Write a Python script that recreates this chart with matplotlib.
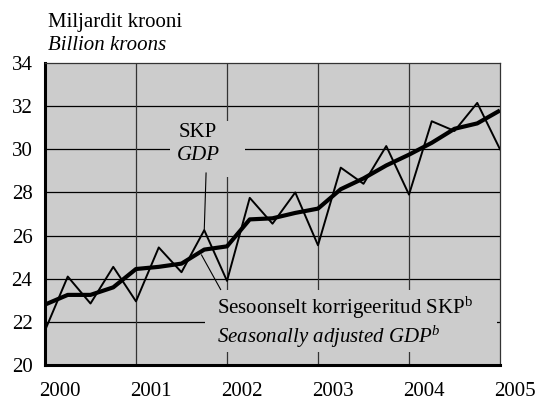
import matplotlib
matplotlib.use("Agg")
import matplotlib.pyplot as plt
import matplotlib.transforms as mtransforms
import numpy as np

plt.rcParams['font.family'] = ['Liberation Serif', 'DejaVu Serif']
plt.rcParams['mathtext.fontset'] = 'custom'
plt.rcParams['mathtext.rm'] = 'Liberation Serif'
plt.rcParams['mathtext.it'] = 'Liberation Serif:italic'

# quarterly data, 2000 Q1 ... 2005 Q1
gdp = [21.6, 24.1, 22.85, 24.55, 22.95, 25.45, 24.3, 26.25, 23.9, 27.75,
       26.55, 28.0, 25.55, 29.15, 28.4, 30.15, 27.9, 31.3, 30.85, 32.15, 30.0]
gdp_sa = [22.8, 23.25, 23.25, 23.6, 24.45, 24.55, 24.7, 25.35, 25.5, 26.75,
          26.8, 27.05, 27.25, 28.15, 28.65, 29.25, 29.75, 30.3, 30.95, 31.2, 31.8]
years = [2000, 2001, 2002, 2003, 2004, 2005]
yticks = [20, 22, 24, 26, 28, 30, 32, 34]

x = 2000 + np.arange(len(gdp)) / 4
fs = 15

fig = plt.figure(figsize=(5.36, 4.01), dpi=100)
ax = fig.add_axes([45 / 536, 36 / 401, 455 / 536, 302 / 401])
ax.set_facecolor('#cccccc')

# grid
for yv in yticks[1:-1]:
    ax.axhline(yv, color='black', lw=0.9, zorder=1)
for xv in years[1:-1]:
    ax.axvline(xv, color='#333333', lw=0.9, zorder=1)

ax.plot(x, gdp, color='black', lw=1.4, zorder=3)
ax.plot(x, gdp_sa, color='black', lw=3.0, zorder=4, solid_capstyle='butt')

ax.set_yticks(yticks)
ax.set_yticklabels([str(v) for v in yticks], fontsize=fs)
ax.set_xticks(years)
ax.set_xticklabels([str(v) for v in years], fontsize=fs)
ax.set_xlim(2000, 2005)
ax.set_ylim(20, 34)
ax.tick_params(axis='y', length=0, pad=9)
ax.tick_params(axis='x', length=0, pad=12)

# year labels sit a little to the right of the year boundary
shift = mtransforms.ScaledTranslation(0.15, 0, fig.dpi_scale_trans)
for lab in ax.get_xticklabels():
    lab.set_transform(lab.get_transform() + shift)

for s in ['left', 'bottom']:
    ax.spines[s].set_linewidth(2.2)
for s in ['top', 'right']:
    ax.spines[s].set_linewidth(0.9)
    ax.spines[s].set_color('#333333')

# label boxes covering the grid
ax.fill_between([2001.37, 2002.2], 28.7, 31.3, color='#cccccc', zorder=2, lw=0)
ax.fill_between([2001.76, 2004.97], 20.6, 23.5, color='#cccccc', zorder=2, lw=0)

ax.text(2001.68, 30.8, 'SKP', ha='center', va='center', fontsize=fs, zorder=5)
ax.text(2001.68, 29.7, 'GDP', ha='center', va='center', fontsize=fs,
        style='italic', zorder=5)
ax.plot([2001.75, 2001.77], [26.25, 28.9], color='black', lw=0.8, zorder=5)

ax.text(2001.89, 22.65, 'Sesoonselt korrigeeritud SKP$^{\\mathrm{b}}$',
        ha='left', va='center', fontsize=fs, zorder=5)
ax.text(2001.89, 21.3, 'Seasonally adjusted GDP$^{b}$',
        ha='left', va='center', fontsize=fs, style='italic', zorder=5)
ax.plot([2001.72, 2001.93], [25.1, 23.5], color='black', lw=0.8, zorder=5)

fig.text(48 / 536, 1 - 22 / 401, 'Miljardit krooni', ha='left', va='center',
         fontsize=fs)
fig.text(48 / 536, 1 - 45 / 401, 'Billion kroons', ha='left', va='center',
         fontsize=fs, style='italic')

fig.savefig('out.png', dpi=100)
